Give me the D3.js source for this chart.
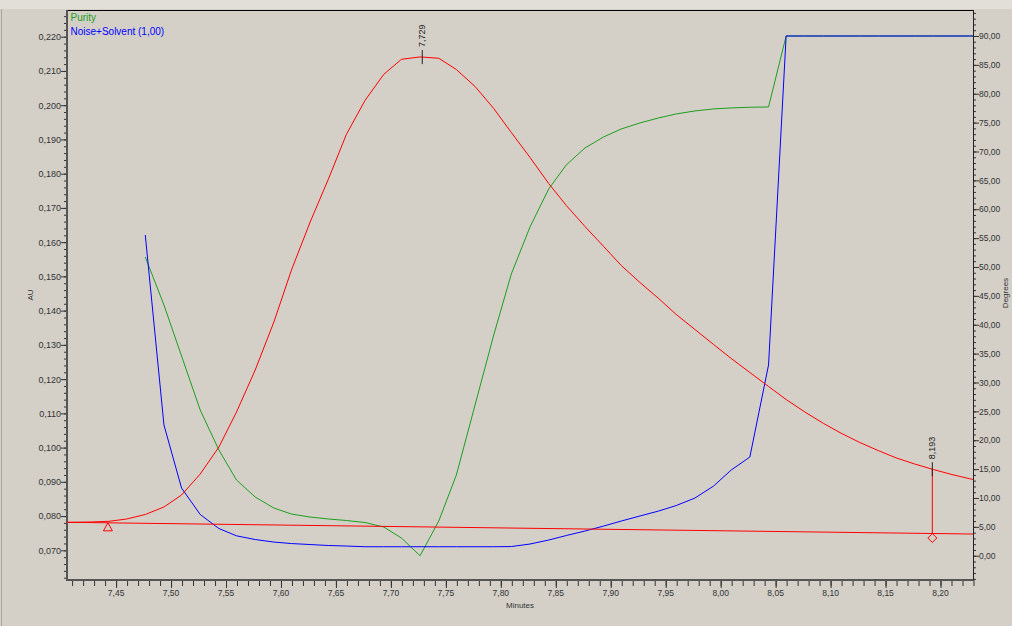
<!DOCTYPE html>
<html>
<head>
<meta charset="utf-8">
<script src="https://cdn.jsdelivr.net/npm/d3@7"></script>
<style>
  html, body { margin: 0; padding: 0; background: #d4d0c8; }
  svg { display: block; font-family: "Liberation Sans", Arial, sans-serif; }
  .tick text { fill: #333; }
</style>
</head>
<body>
<svg id="chart" width="1012" height="626"></svg>
<script>
// Sample times (minutes), one sample per second
const times = [7.394, 7.410, 7.427, 7.444, 7.460, 7.477, 7.494, 7.510, 7.527, 7.544,
  7.560, 7.577, 7.594, 7.610, 7.627, 7.644, 7.660, 7.677, 7.694, 7.710,
  7.727, 7.744, 7.760, 7.777, 7.794, 7.810, 7.827, 7.844, 7.860, 7.877,
  7.894, 7.910, 7.927, 7.944, 7.960, 7.977, 7.994, 8.010, 8.027, 8.044,
  8.060, 8.077, 8.094, 8.110, 8.127, 8.144, 8.160, 8.177, 8.194, 8.210,
  8.227, 8.244];

// Chromatogram signal (AU), same length as times
const signalAU = [0.07812, 0.07818, 0.07827, 0.07847, 0.07914, 0.08046, 0.08265, 0.08615, 0.09228, 0.10017,
  0.11039, 0.12266, 0.13668, 0.15186, 0.16588, 0.17873, 0.19150, 0.20143, 0.20902, 0.21340,
  0.21410, 0.21370, 0.21042, 0.20546, 0.19904, 0.19203, 0.18473, 0.17713, 0.17071, 0.16458,
  0.15874, 0.15319, 0.14822, 0.14355, 0.13888, 0.13450, 0.13012, 0.12603, 0.12194, 0.11785,
  0.11405, 0.11040, 0.10705, 0.10420, 0.10150, 0.09910, 0.09700, 0.09520, 0.09360, 0.09220,
  0.09090, 0.08980];

// Purity and noise+solvent angles (degrees), starting at 7.477 min
const angleTimes = times.slice(5);
const purityDeg = [51.73, 43.42, 34.59, 25.23, 18.31, 13.11, 10.17, 8.26, 7.22, 6.70,
  6.36, 6.10, 5.75, 4.97, 3.07, 0.00, 6.01, 13.98, 26.10, 38.22,
  48.79, 56.93, 63.51, 67.67, 70.61, 72.52, 73.90, 74.94, 75.81, 76.50,
  77.02, 77.37, 77.54, 77.66, 77.71, 90.00, 90.00, 90.00, 90.00, 90.00,
  90.00, 90.00, 90.00, 90.00, 90.00, 90.00, 90.00];
const noiseDeg = [55.54, 22.64, 11.73, 7.14, 4.71, 3.45, 2.81, 2.37, 2.11, 1.94,
  1.77, 1.68, 1.56, 1.56, 1.56, 1.56, 1.56, 1.56, 1.56, 1.56,
  1.59, 2.03, 2.72, 3.50, 4.28, 5.14, 6.01, 6.88, 7.74, 8.69,
  9.99, 12.07, 14.84, 17.09, 33.03, 90.00, 90.00, 90.00, 90.00, 90.00,
  90.00, 90.00, 90.00, 90.00, 90.00, 90.00, 90.00];

// Integration: peak start/end and baseline levels, apex retention time
const peakStart = 7.443, peakEnd = 8.193, apexTime = 7.729;
const baselineAU = [0.07803, 0.07491];
const apexLabel = "7,729", endLabel = "8,193";

// Axis ticks
const minuteTicks = [7.45, 7.50, 7.55, 7.60, 7.65, 7.70, 7.75, 7.80, 7.85, 7.90, 7.95, 8.00, 8.05, 8.10, 8.15, 8.20];
const auTicks = [0.070, 0.080, 0.090, 0.100, 0.110, 0.120, 0.130, 0.140, 0.150, 0.160, 0.170, 0.180, 0.190, 0.200, 0.210, 0.220];
const degreeTicks = [0, 5, 10, 15, 20, 25, 30, 35, 40, 45, 50, 55, 60, 65, 70, 75, 80, 85, 90];
const legendItems = [{ label: "Purity", color: "#1c9e1c" }, { label: "Noise+Solvent (1,00)", color: "#0000ff" }];

const svg = d3.select("#chart");
const L = 67, R = 973, T = 10, B = 580;

const x = d3.scaleLinear().domain([7.4058, 8.230]).range([L, R]);
const yAU = d3.scaleLinear().domain([0.06133, 0.2278]).range([B, T]);
const yDeg = d3.scaleLinear().domain([-4.2, 94.5]).range([B, T]);

const locale = d3.formatLocale({ decimal: ",", thousands: ".", grouping: [3], currency: ["", ""] });
const f2 = locale.format(".2f"), f3 = locale.format(".3f");

// window chrome
svg.append("rect").attr("x", 0).attr("y", 0).attr("width", 1012).attr("height", 9).attr("fill", "#e2dfd9");
svg.append("line").attr("x1", 1.5).attr("x2", 1.5).attr("y1", 9).attr("y2", 626).attr("stroke", "#a9a59f");

// clip for data lines
svg.append("clipPath").attr("id", "plot").append("rect")
  .attr("x", L).attr("y", T).attr("width", R - L).attr("height", B - T);

// top frame
svg.append("line").attr("x1", L).attr("x2", R).attr("y1", T + 0.5).attr("y2", T + 0.5).attr("stroke", "#000");

function styleAxis(g) {
  g.select(".domain").remove();
  g.selectAll(".tick line").attr("stroke", "#333");
}

// bottom axis
const gx = svg.append("g").attr("transform", `translate(0,${B})`);
gx.call(d3.axisBottom(x).tickValues(d3.range(7.41, 8.2301, 0.01)).tickSize(6).tickFormat(""));
styleAxis(gx);
gx.selectAll(".tick line").attr("transform", "translate(0.5,0)");
const gx2 = svg.append("g").attr("transform", `translate(0,${B})`);
gx2.call(d3.axisBottom(x).tickValues(minuteTicks).tickSize(8).tickPadding(2).tickFormat(f2));
styleAxis(gx2);
gx2.selectAll(".tick line").attr("transform", "translate(0.5,0)");
gx2.selectAll("text").attr("font-size", 8.5);

// left axis (AU)
const gl = svg.append("g").attr("transform", `translate(${L},0)`);
gl.call(d3.axisLeft(yAU).tickValues(d3.range(0.062, 0.2279, 0.002)).tickSize(3).tickFormat(""));
styleAxis(gl);
const gl2 = svg.append("g").attr("transform", `translate(${L},0)`);
gl2.call(d3.axisLeft(yAU).tickValues(auTicks).tickSize(6).tickPadding(0).tickFormat(f3));
styleAxis(gl2);
gl2.selectAll("text").attr("font-size", 9);

// right axis (degrees)
const gr = svg.append("g").attr("transform", `translate(${R},0)`);
gr.call(d3.axisRight(yDeg).tickValues(d3.range(-4, 94.5, 1)).tickSize(3).tickFormat(""));
styleAxis(gr);
const gr2 = svg.append("g").attr("transform", `translate(${R},0)`);
gr2.call(d3.axisRight(yDeg).tickValues(degreeTicks).tickSize(6).tickPadding(0).tickFormat(f2));
styleAxis(gr2);
gr2.selectAll("text").attr("font-size", 8.5);

// axis lines
svg.append("line").attr("x1", L).attr("x2", L).attr("y1", T).attr("y2", B + 1)
  .attr("stroke", "#555").attr("stroke-width", 2);
svg.append("line").attr("x1", L - 1).attr("x2", R + 1).attr("y1", B).attr("y2", B)
  .attr("stroke", "#555").attr("stroke-width", 2);
svg.append("line").attr("x1", R + 0.5).attr("x2", R + 0.5).attr("y1", T).attr("y2", B)
  .attr("stroke", "#222").attr("stroke-width", 1);

// axis titles
svg.append("text").attr("x", (L + R) / 2).attr("y", 608).attr("text-anchor", "middle")
  .attr("font-size", 8).attr("fill", "#333").text("Minutes");
svg.append("text").attr("transform", "translate(33,295) rotate(-90)").attr("text-anchor", "middle")
  .attr("font-size", 8).attr("fill", "#333").text("AU");
svg.append("text").attr("transform", "translate(1008,293) rotate(-90)").attr("text-anchor", "middle")
  .attr("font-size", 8).attr("fill", "#333").text("Degrees");

const plot = svg.append("g").attr("clip-path", "url(#plot)");

// purity and noise angle traces
const degLine = d3.line().x(d => x(d[0])).y(d => yDeg(d[1]));
plot.append("path").datum(d3.zip(angleTimes, purityDeg)).attr("d", degLine)
  .attr("fill", "none").attr("stroke", legendItems[0].color).attr("stroke-width", 1);
plot.append("path").datum(d3.zip(angleTimes, noiseDeg)).attr("d", degLine)
  .attr("fill", "none").attr("stroke", legendItems[1].color).attr("stroke-width", 1);

// chromatogram
const auLine = d3.line().x(d => x(d[0])).y(d => yAU(d[1]));
plot.append("path").datum(d3.zip(times, signalAU)).attr("d", auLine)
  .attr("fill", "none").attr("stroke", "#ff0000").attr("stroke-width", 1);

// baseline, extended across the plot
const base = d3.scaleLinear().domain([peakStart, peakEnd]).range(baselineAU);
const [t0, t1] = x.domain();
plot.append("path").datum([[t0, base(t0)], [t1, base(t1)]]).attr("d", auLine)
  .attr("fill", "none").attr("stroke", "#ff0000").attr("stroke-width", 1);

// signal value at a time, by linear interpolation
function signalAt(t) {
  const i = d3.bisectRight(times, t);
  const a = times[i - 1], b = times[i];
  return signalAU[i - 1] + (signalAU[i] - signalAU[i - 1]) * (t - a) / (b - a);
}

// peak end drop line and markers
const xe = x(peakEnd);
svg.append("line").attr("x1", xe).attr("x2", xe).attr("y1", yAU(signalAt(peakEnd))).attr("y2", yAU(base(peakEnd)))
  .attr("stroke", "#ff0000");
const xs = x(peakStart), ys = yAU(base(peakStart));
svg.append("path").attr("d", `M${xs},${ys}L${xs + 4.5},${ys + 8}L${xs - 4.5},${ys + 8}Z`)
  .attr("fill", "none").attr("stroke", "#ff0000");
const ye = yAU(base(peakEnd));
svg.append("path").attr("d", `M${xe},${ye}L${xe + 4.5},${ye + 4.5}L${xe},${ye + 9}L${xe - 4.5},${ye + 4.5}Z`)
  .attr("fill", "none").attr("stroke", "#ff0000");

// retention time labels with tick marks on the trace
[[apexTime, apexLabel], [peakEnd, endLabel]].forEach(([t, lab]) => {
  const px = x(t), py = yAU(signalAt(t));
  svg.append("line").attr("x1", px).attr("x2", px).attr("y1", py - 7).attr("y2", py + 7)
    .attr("stroke", "#222");
  svg.append("text").attr("transform", `translate(${px + 3},${py - 10}) rotate(-90)`)
    .attr("font-size", 9).attr("fill", "#222").text(lab);
});

// legend
legendItems.forEach((d, i) => {
  svg.append("text").attr("x", 70.5).attr("y", 21 + i * 13.5).attr("font-size", 10)
    .attr("fill", d.color).text(d.label);
});
</script>
</body>
</html>
